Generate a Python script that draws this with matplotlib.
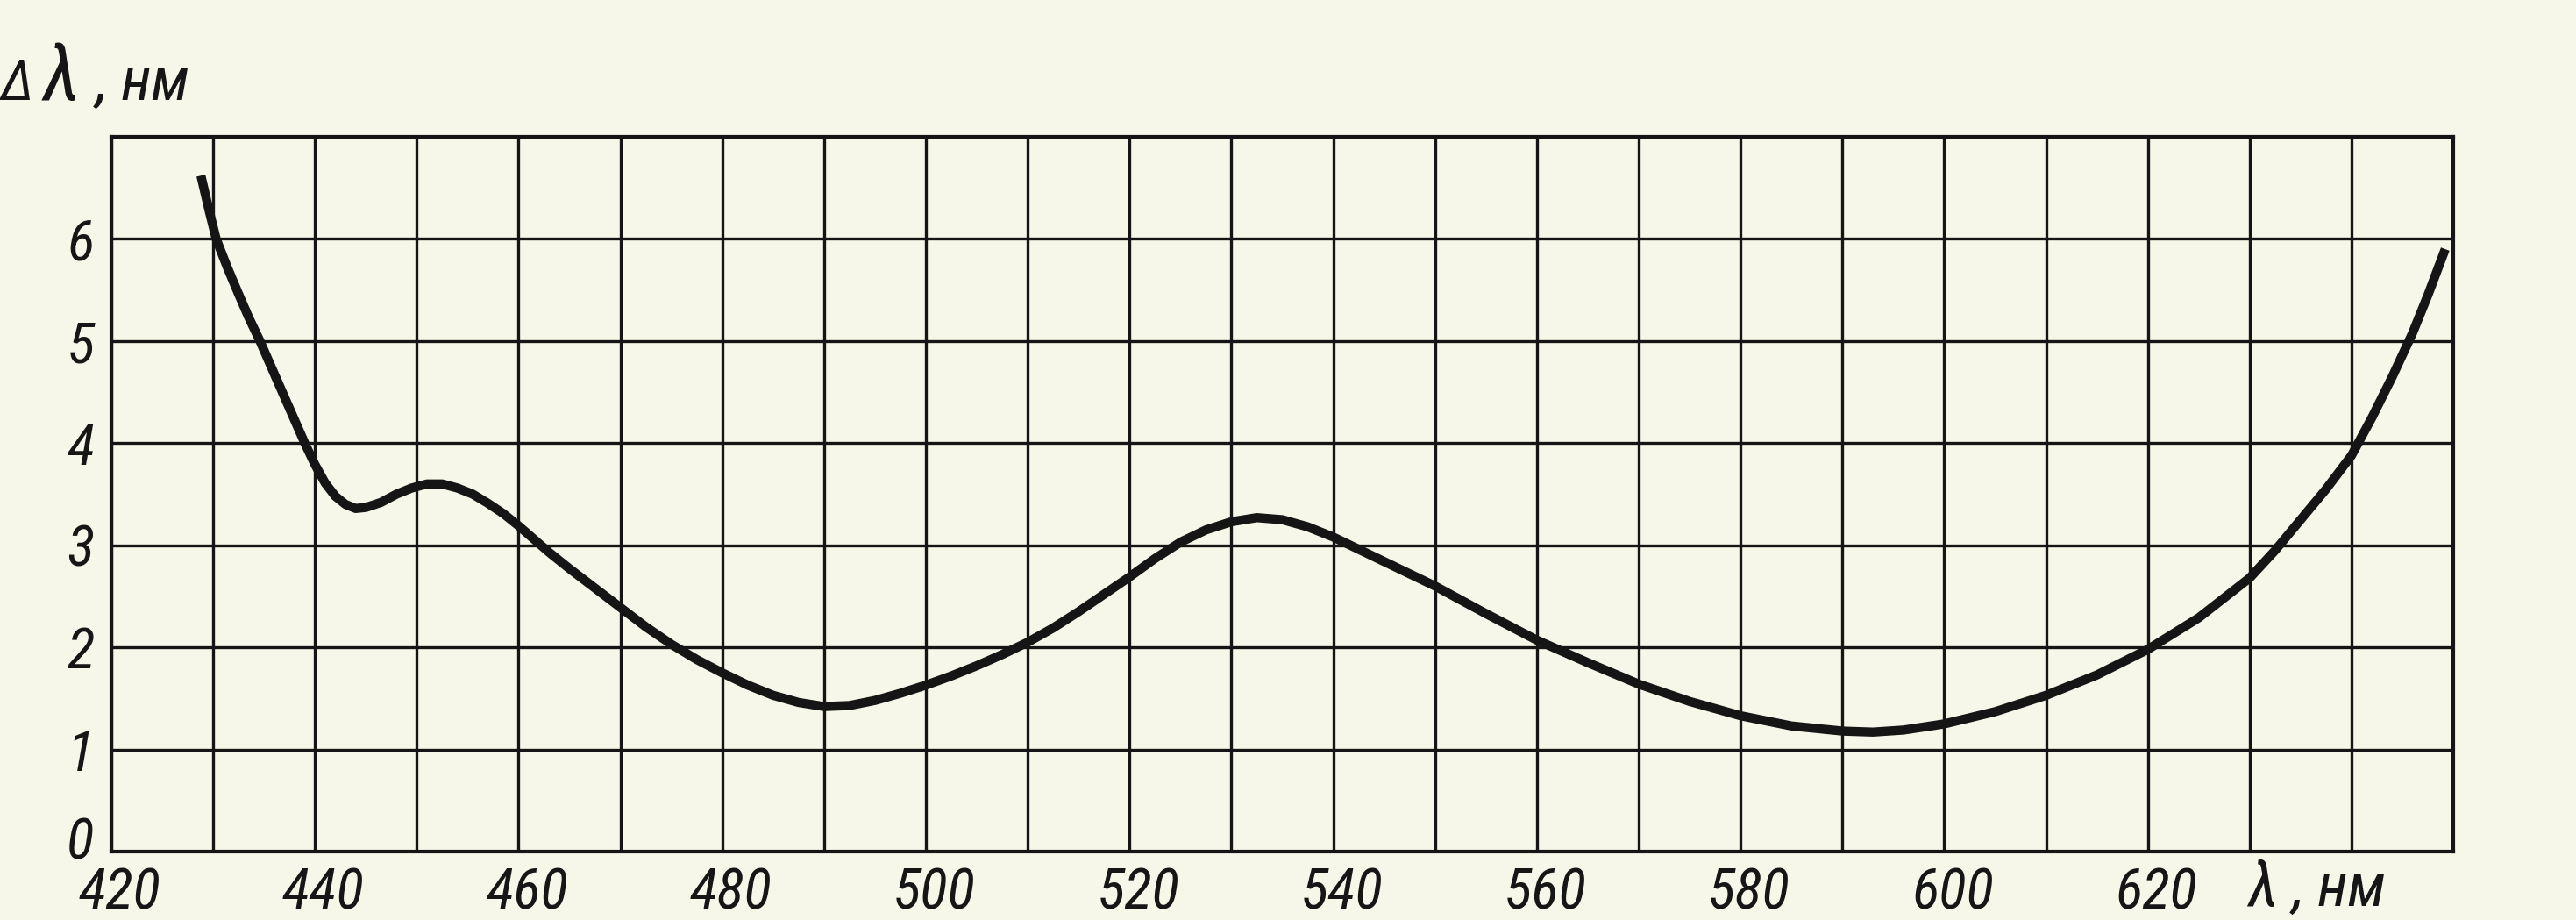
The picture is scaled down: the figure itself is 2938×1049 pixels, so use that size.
import matplotlib
matplotlib.use("Agg")
import matplotlib.pyplot as plt
import matplotlib.transforms as mtransforms
from matplotlib import font_manager

# wavelength (nm) and spectral width (nm)
wl = [428.8, 429.6, 430.3, 431.4, 432.5, 433.5, 434.6, 436.0, 437.5, 439.0,
      440.0, 441.0, 442.0, 443.0, 444.0, 445.0, 446.5, 448.0, 449.5, 451.0,
      452.5, 454.0, 455.5, 457.0, 458.5, 460.0, 461.5, 463.0, 465.0, 467.5,
      470.0, 472.5, 475.0, 477.5, 480.0, 482.5, 485.0, 487.5, 490.0, 492.5,
      495.0, 497.5, 500.0, 502.5, 505.0, 507.5, 510.0, 512.5, 515.0, 517.5,
      520.0, 522.5, 525.0, 527.5, 530.0, 532.5, 535.0, 537.5, 540.0, 542.5,
      545.0, 547.5, 550.0, 555.0, 560.0, 565.0, 570.0, 575.0, 580.0, 585.0,
      590.0, 593.0, 596.0, 600.0, 605.0, 610.0, 615.0, 620.0, 625.0, 630.0,
      632.5, 635.0, 637.5, 640.0, 642.0, 644.0, 646.0, 647.5, 649.2]
dl = [6.62, 6.28, 6.00, 5.72, 5.46, 5.23, 5.00, 4.68, 4.34, 4.00,
      3.79, 3.61, 3.48, 3.40, 3.36, 3.37, 3.42, 3.50, 3.56, 3.60,
      3.60, 3.56, 3.50, 3.41, 3.31, 3.19, 3.06, 2.93, 2.77, 2.58,
      2.39, 2.20, 2.03, 1.88, 1.75, 1.63, 1.53, 1.46, 1.42, 1.43,
      1.48, 1.55, 1.63, 1.72, 1.82, 1.93, 2.05, 2.19, 2.35, 2.52,
      2.69, 2.87, 3.03, 3.15, 3.23, 3.27, 3.25, 3.18, 3.08, 2.96,
      2.84, 2.72, 2.60, 2.33, 2.07, 1.85, 1.64, 1.47, 1.33, 1.23,
      1.18, 1.17, 1.19, 1.25, 1.37, 1.53, 1.73, 1.98, 2.29, 2.68,
      2.95, 3.25, 3.55, 3.88, 4.25, 4.65, 5.08, 5.45, 5.90]

x_labels = [420, 440, 460, 480, 500, 520, 540, 560, 580, 600, 620]
y_labels = [0, 1, 2, 3, 4, 5, 6]

# narrow italic font, like the drafting lettering
names = set(f.name for f in font_manager.fontManager.ttflist)
fam = 'DejaVu Sans'
for n in ['Liberation Sans Narrow', 'Roboto Condensed', 'Open Sans Condensed']:
    if n in names:
        fam = n
        break
font = dict(family=[fam, 'DejaVu Sans'], style='italic', stretch='condensed',
            color='#161616')

bg = '#f6f7e9'
ink = '#151515'

fig = plt.figure(figsize=(29.38, 10.49), dpi=100, facecolor=bg)
ax = fig.add_axes([0.0432, 0.0744, 0.9092, 0.7769], facecolor=bg)

ax.plot(wl, dl, color=ink, lw=7.5, solid_capstyle='butt', zorder=3)

ax.set_xlim(420, 650)
ax.set_ylim(0, 7)
ax.set_xticks(range(420, 651, 10), minor=True)
ax.set_xticks(x_labels)
ax.set_xticklabels([str(v) for v in x_labels], fontsize=47, **font)
ax.set_yticks(range(0, 8), minor=True)
ax.set_yticks(y_labels)
ax.set_yticklabels([str(v) for v in y_labels], fontsize=47, **font)
ax.tick_params(which='both', length=0)
ax.tick_params(axis='x', pad=12)
ax.tick_params(axis='y', pad=14)
ax.grid(True, which='both', color=ink, lw=2.4)
for s in ax.spines.values():
    s.set_color(ink)
    s.set_linewidth(3.0)

# hand lettering sits a little right of the x ticks
shift = mtransforms.ScaledTranslation(7 / 72, 0, fig.dpi_scale_trans)
for lab in ax.get_xticklabels():
    lab.set_transform(lab.get_transform() + shift)

# the zero label sits above the bottom line
lab0 = ax.get_yticklabels()[0]
lab0.set_transform(lab0.get_transform() +
                   mtransforms.ScaledTranslation(0, 11 / 72, fig.dpi_scale_trans))

# axis titles
fig.text(2581 / 2938, 1 - 1033 / 1049, 'λ', fontsize=52, ha='center',
         va='baseline', **font)
fig.text(2615 / 2938, 1 - 1033 / 1049, ', нм', fontsize=50, ha='left',
         va='baseline', **font)
fig.text(0.0, 1 - 114 / 1049, 'Δ', fontsize=46, ha='left', va='baseline', **font)
fig.text(50 / 2938, 1 - 114 / 1049, 'λ', fontsize=64, ha='left',
         va='baseline', **font)
fig.text(110 / 2938, 1 - 114 / 1049, ', нм', fontsize=50, ha='left',
         va='baseline', **font)

fig.savefig('out.png', dpi=100, facecolor=bg)
